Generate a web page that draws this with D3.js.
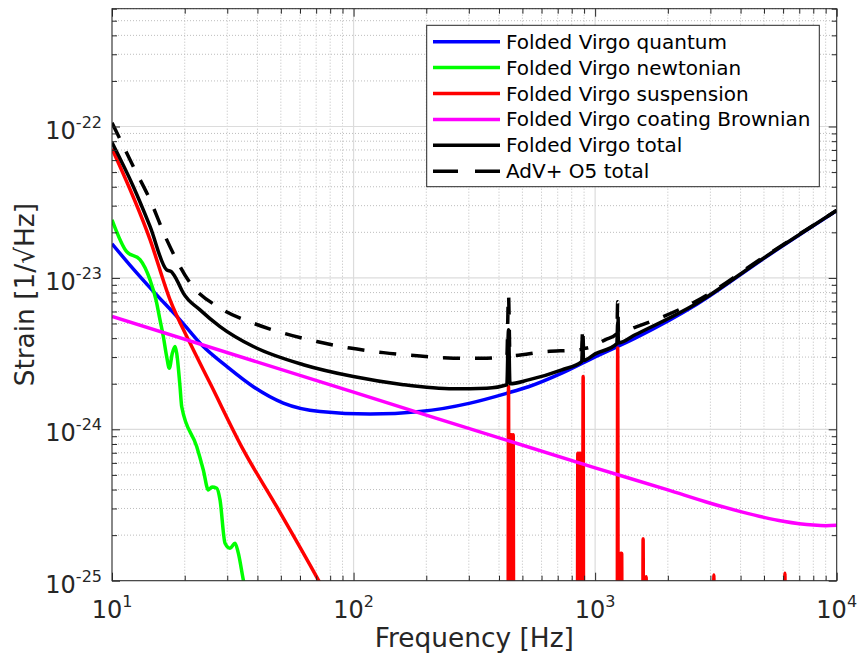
<!DOCTYPE html>
<html>
<head>
<meta charset="utf-8">
<script src="https://cdn.jsdelivr.net/npm/d3@7"></script>
<style>
  body { margin: 0; background: #fff; }
  text { font-family: "DejaVu Sans", sans-serif; }
</style>
</head>
<body>
<div id="chart"></div>
<script>
// ---- data (frequency in Hz, strain in 1/sqrt(Hz)) ----
const quantumF = [10, 11.84, 14.64, 19.12, 23.88, 29.85, 38.47, 51.2, 72.7, 117, 188.6, 303.8, 430.9, 529.6, 728, 1000, 1464, 2637, 4977, 10000];
const quantumS = [1.68e-23, 1.22e-23, 8.34e-24, 5.28e-24, 3.52e-24, 2.60e-24, 1.91e-24, 1.49e-24, 1.31e-24, 1.26e-24, 1.31e-24, 1.49e-24, 1.73e-24, 1.91e-24, 2.35e-24, 3.01e-24, 4.00e-24, 6.70e-24, 1.34e-23, 2.78e-23];

const newtonF = [10, 11.5, 13.06, 14.37, 15.21, 15.80, 16.31, 16.84, 17.27, 17.77, 18.24, 18.53, 19.12, 19.44, 22.42, 23.88, 25.05, 25.95, 27.14, 28.0, 29.37, 30.80, 32.31, 33.34, 34.97, 37.27];
const newtonS = [2.42e-23, 1.49e-23, 1.32e-23, 9.7e-24, 7.16e-24, 5.28e-24, 4.10e-24, 3.02e-24, 2.53e-24, 3.18e-24, 3.52e-24, 3.18e-24, 1.92e-24, 1.41e-24, 7.69e-25, 5.39e-25, 3.98e-25, 4.16e-25, 4.08e-25, 3.42e-25, 1.77e-25, 1.64e-25, 1.77e-25, 1.52e-25, 1.01e-25, 6.4e-26];

// suspension: smooth low-frequency part, then narrow resonance peaks on a floor below the axis
const suspF = [10, 14.37, 17.39, 21.04, 25.45, 34.97, 48.08, 71.5, 87.9, 150, 300, 10000];
const suspS = [7.13e-23, 1.79e-23, 7.16e-24, 3.71e-24, 2.02e-24, 7.31e-25, 3.08e-25, 1.01e-25, 5.5e-26, 1.3e-26, 1e-27, 1e-27];
const peakF = [438, 447, 452, 458, 848, 858, 868, 892, 1240, 1276, 1288, 1580, 1627, 3101, 6105];
const peakS = [1.92e-24, 9.2e-25, 9.2e-25, 9.2e-25, 6.95e-25, 6.95e-25, 6.95e-25, 2.23e-24, 3.44e-24, 1.52e-25, 1.52e-25, 1.89e-25, 1.06e-25, 1.09e-25, 1.12e-25];
const suspFloor = 1e-27;

const coatF = [10, 100, 1000, 2000, 3000, 4000, 5000, 6000, 7000, 8000, 9000, 10000];
const coatS = [5.56e-24, 1.76e-24, 5.56e-25, 3.98e-25, 3.25e-25, 2.86e-25, 2.62e-25, 2.47e-25, 2.38e-25, 2.33e-25, 2.31e-25, 2.32e-25];

const totalF = [10, 12.25, 14.37, 16.84, 17.6, 18.53, 19.74, 23.14, 28.0, 38.47, 61.96, 99.8, 160.8, 259, 356, 431, 438, 444, 529.6, 728, 880, 888, 896, 1000, 1230, 1240, 1250, 1464, 2637, 4977, 10000];
const totalS = [7.85e-23, 4.02e-23, 2.19e-23, 1.13e-23, 1.10e-23, 9.71e-24, 7.93e-24, 6.15e-24, 4.77e-24, 3.52e-24, 2.67e-24, 2.23e-24, 1.97e-24, 1.85e-24, 1.87e-24, 1.97e-24, 4.54e-24, 2.0e-24, 2.12e-24, 2.47e-24, 2.8e-24, 3.9e-24, 2.85e-24, 3.15e-24, 3.68e-24, 5.05e-24, 3.72e-24, 4.21e-24, 6.81e-24, 1.35e-23, 2.79e-23];

const advF = [10, 12.25, 14.37, 16.84, 21.04, 28.0, 38.47, 51.2, 70.4, 96.7, 132.9, 188.6, 259, 356, 431, 438, 444, 620.8, 853, 880, 888, 896, 1100, 1230, 1240, 1250, 1464, 1912, 2637, 4977, 10000];
const advS = [1.06e-22, 5.45e-23, 3.28e-23, 1.79e-23, 9.28e-24, 6.32e-24, 5.02e-24, 4.32e-24, 3.80e-24, 3.44e-24, 3.21e-24, 3.05e-24, 2.95e-24, 2.95e-24, 3.05e-24, 7.73e-24, 3.06e-24, 3.26e-24, 3.35e-24, 3.38e-24, 4.68e-24, 3.42e-24, 3.90e-24, 4.28e-24, 6.95e-24, 4.32e-24, 4.72e-24, 5.55e-24, 7.05e-24, 1.37e-23, 2.79e-23];

const xMajor = [10, 100, 1000, 10000];
const yMajor = [1e-25, 1e-24, 1e-23, 1e-22];
const xExp = ["1", "2", "3", "4"];
const yExp = ["-25", "-24", "-23", "-22"];

const legendNames = ["Folded Virgo quantum", "Folded Virgo newtonian", "Folded Virgo suspension",
                     "Folded Virgo coating Brownian", "Folded Virgo total", "AdV+ O5 total"];
const legendColors = ["#0000ff", "#00ff00", "#ff0000", "#ff00ff", "#000000", "#000000"];

// ---- build the suspension trace (peaks are narrow resonances) ----
let suspPts = suspF.map((f, i) => [f, suspS[i]]);
peakF.forEach((f, i) => {
  suspPts.push([f * 0.993, suspFloor], [f, peakS[i]], [f * 1.007, suspFloor]);
});
suspPts.sort((a, b) => a[0] - b[0]);

const zip = (fs, ss) => fs.map((f, i) => [f, ss[i]]);

const W = 858, H = 659;
const pL = 112, pR = 836.7, pT = 8.7, pB = 580.7;
const lw = 3.5;

const svg = d3.select("#chart").append("svg")
    .attr("width", W).attr("height", H)
    .style("background", "#fff");

const x = d3.scaleLog().domain([10, 1e4]).range([pL, pR]);
const y = d3.scaleLog().domain([1e-25, 6e-22]).range([pB, pT]);

// minor values
let xMinor = [], yMinor = [];
[10, 100, 1000].forEach(d => { for (let k = 2; k <= 9; k++) xMinor.push(d * k); });
[1e-25, 1e-24, 1e-23, 1e-22].forEach(d => { for (let k = 2; k <= 9; k++) if (d * k <= 6e-22 * 1.0001) yMinor.push(d * k); });

// ---- grid ----
const grid = svg.append("g");
grid.selectAll(".gxm").data(xMinor).enter().append("line")
    .attr("x1", d => x(d)).attr("x2", d => x(d)).attr("y1", pT).attr("y2", pB)
    .attr("stroke", "#bdbdbd").attr("stroke-width", 1).attr("stroke-dasharray", "1,2");
grid.selectAll(".gym").data(yMinor).enter().append("line")
    .attr("y1", d => y(d)).attr("y2", d => y(d)).attr("x1", pL).attr("x2", pR)
    .attr("stroke", "#bdbdbd").attr("stroke-width", 1).attr("stroke-dasharray", "1,2");
grid.selectAll(".gxM").data(xMajor).enter().append("line")
    .attr("x1", d => x(d)).attr("x2", d => x(d)).attr("y1", pT).attr("y2", pB)
    .attr("stroke", "#dcdcdc").attr("stroke-width", 1.2);
grid.selectAll(".gyM").data(yMajor).enter().append("line")
    .attr("y1", d => y(d)).attr("y2", d => y(d)).attr("x1", pL).attr("x2", pR)
    .attr("stroke", "#dcdcdc").attr("stroke-width", 1.2);

// ---- curves ----
svg.append("clipPath").attr("id", "plotclip").append("rect")
    .attr("x", pL).attr("y", pT).attr("width", pR - pL).attr("height", pB - pT);
const plot = svg.append("g").attr("clip-path", "url(#plotclip)");

const smooth = d3.line().x(d => x(d[0])).y(d => y(d[1])).curve(d3.curveMonotoneX);

const series = [
  { pts: zip(quantumF, quantumS), color: legendColors[0] },
  { pts: zip(newtonF, newtonS), color: legendColors[1] },
  { pts: suspPts, color: legendColors[2] },
  { pts: zip(coatF, coatS), color: legendColors[3] },
  { pts: zip(totalF, totalS), color: legendColors[4] },
  { pts: zip(advF, advS), color: legendColors[5], dash: "17,15" }
];
series.forEach(s => {
  plot.append("path")
      .attr("d", smooth(s.pts))
      .attr("fill", "none")
      .attr("stroke", s.color)
      .attr("stroke-width", lw)
      .attr("stroke-linejoin", "round")
      .attr("stroke-dasharray", s.dash || null);
});

// ---- axes (ticks inward on all four sides) ----
const axisCol = "#262626";
function ticks(gen, tr) {
  const g = svg.append("g").attr("transform", tr).call(gen);
  g.select(".domain").remove();
  g.selectAll("line").attr("stroke", axisCol);
  g.selectAll("text").remove();
}
ticks(d3.axisBottom(x).tickValues(xMajor).tickSize(-8), `translate(0,${pB})`);
ticks(d3.axisBottom(x).tickValues(xMinor).tickSize(-5), `translate(0,${pB})`);
ticks(d3.axisTop(x).tickValues(xMajor).tickSize(-8), `translate(0,${pT})`);
ticks(d3.axisTop(x).tickValues(xMinor).tickSize(-5), `translate(0,${pT})`);
ticks(d3.axisLeft(y).tickValues(yMajor).tickSize(-8), `translate(${pL},0)`);
ticks(d3.axisLeft(y).tickValues(yMinor).tickSize(-5), `translate(${pL},0)`);
ticks(d3.axisRight(y).tickValues(yMajor).tickSize(-8), `translate(${pR},0)`);
ticks(d3.axisRight(y).tickValues(yMinor).tickSize(-5), `translate(${pR},0)`);

svg.append("rect")
    .attr("x", pL).attr("y", pT).attr("width", pR - pL).attr("height", pB - pT)
    .attr("fill", "none").attr("stroke", axisCol).attr("stroke-width", 1);

// tick labels with superscript exponents
xMajor.forEach((d, i) => {
  const t = svg.append("text")
      .attr("x", x(d)).attr("y", pB + 37)
      .attr("text-anchor", "middle").attr("fill", axisCol).style("font-size", "24px");
  t.append("tspan").text("10");
  t.append("tspan").attr("dy", -11).style("font-size", "16px").text(xExp[i]);
});
yMajor.forEach((d, i) => {
  const t = svg.append("text")
      .attr("x", pL - 10).attr("y", y(d) + 12)
      .attr("text-anchor", "end").attr("fill", axisCol).style("font-size", "24px");
  t.append("tspan").text("10");
  t.append("tspan").attr("dy", -11).style("font-size", "16px").text(yExp[i]);
});

// axis labels
svg.append("text")
    .attr("x", (pL + pR) / 2).attr("y", 647)
    .attr("text-anchor", "middle").attr("fill", axisCol).style("font-size", "26.4px")
    .text("Frequency [Hz]");
svg.append("text")
    .attr("transform", `translate(34,${(pT + pB) / 2}) rotate(-90)`)
    .attr("text-anchor", "middle").attr("fill", axisCol).style("font-size", "26.4px")
    .text("Strain [1/\u221AHz]");

// ---- legend ----
const leg = svg.append("g");
leg.append("rect")
    .attr("x", 426.7).attr("y", 25.3).attr("width", 392.6).attr("height", 161.4)
    .attr("fill", "#fff").attr("stroke", axisCol).attr("stroke-width", 1);
legendNames.forEach((name, i) => {
  const cy = 41.7 + i * 25.9;
  leg.append("line")
      .attr("x1", 433).attr("x2", 500).attr("y1", cy).attr("y2", cy)
      .attr("stroke", legendColors[i]).attr("stroke-width", lw)
      .attr("stroke-dasharray", i === 5 ? "25,17" : null);
  leg.append("text")
      .attr("x", 506).attr("y", cy + 7)
      .attr("fill", "#000").style("font-size", "20px")
      .text(name);
});
</script>
</body>
</html>
